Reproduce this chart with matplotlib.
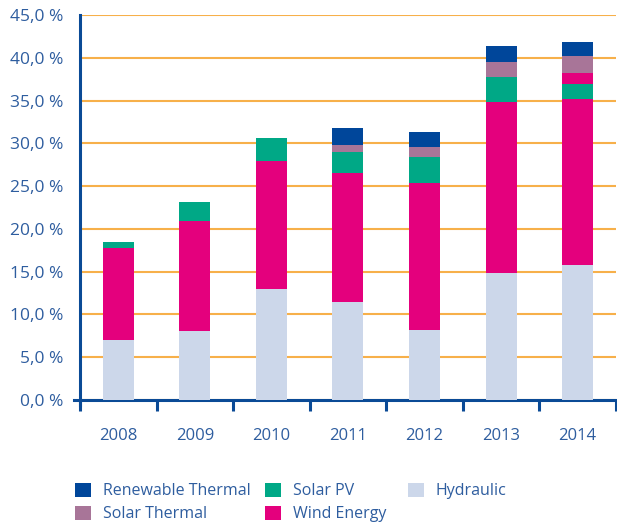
import numpy as np
import matplotlib.pyplot as plt

years = ["2008", "2009", "2010", "2011", "2012", "2013", "2014"]
hydraulic = [7.0, 8.1, 13.0, 11.5, 8.2, 14.9, 15.8]
wind = [10.8, 12.8, 14.9, 15.0, 17.2, 19.9, 19.4]
solar_pv = [0.7, 2.2, 2.7, 2.5, 3.0, 3.0, 1.7]
wind_extra = [0, 0, 0, 0, 0, 0, 1.3]
solar_thermal = [0, 0, 0, 0.8, 1.2, 1.7, 2.0]
renew_thermal = [0, 0, 0, 2.0, 1.7, 1.9, 1.7]
yticks = [0, 5, 10, 15, 20, 25, 30, 35, 40, 45]

txt = "#2E5D9F"
axis_col = "#0A4A96"
plt.rcParams['font.family'] = ['Open Sans', 'DejaVu Sans']

fig = plt.figure(figsize=(6.17, 5.24), dpi=100)
ax = fig.add_axes([0.1297, 0.2366, 0.8686, 0.7348])

x = np.arange(len(years))
w = 0.405
series = [
    (hydraulic, "#CCD7EA", "Hydraulic"),
    (wind, "#E4007D", "Wind Energy"),
    (solar_pv, "#00A886", "Solar PV"),
    (wind_extra, "#E4007D", None),
    (solar_thermal, "#A87598", "Solar Thermal"),
    (renew_thermal, "#00469A", "Renewable Thermal"),
]
bottom = np.zeros(len(years))
handles = {}
for vals, col, name in series:
    b = ax.bar(x, vals, w, bottom=bottom, color=col, zorder=3)
    if name:
        handles[name] = b
    bottom += np.array(vals)

ax.set_xlim(-0.5, 6.5)
ax.set_ylim(0, 45)
ax.set_yticks(yticks)
ax.set_yticklabels([f"{v:.1f} %".replace(".", ",") for v in yticks])
ax.yaxis.grid(True, color="#F7B04A", lw=1.5, zorder=0)
ax.tick_params(axis="y", length=0, pad=12, labelsize=12.5, labelcolor=txt)

ax.set_xticks(np.arange(-0.5, 7, 1))
ax.set_xticklabels([])
ax.set_xticks(x, minor=True)
ax.set_xticklabels(years, minor=True)
ax.tick_params(axis="x", which="major", length=8, width=2.2, color=axis_col, direction="out")
ax.tick_params(axis="x", which="minor", length=0, pad=20, labelsize=12, labelcolor=txt)

for s in ["top", "right"]:
    ax.spines[s].set_visible(False)
ax.spines["left"].set_color(axis_col)
ax.spines["left"].set_linewidth(2.2)
ax.spines["bottom"].set_color(axis_col)
ax.spines["bottom"].set_linewidth(2.2)
ax.spines["bottom"].set_bounds(-0.58, 6.5)
ax.plot([-0.5, -0.5], [0, -0.6], color=axis_col, lw=2.2, clip_on=False, zorder=5)

columns = [(["Renewable Thermal", "Solar Thermal"], 0.121),
           (["Solar PV", "Wind Energy"], 0.4296),
           (["Hydraulic"], 0.661)]
for names, xpos in columns:
    leg = fig.legend([handles[k] for k in names], names, loc="upper left",
                     bbox_to_anchor=(xpos, 0.079), frameon=False, fontsize=11.5,
                     handlelength=1.0, handleheight=1.0, handletextpad=0.75,
                     labelspacing=0.4, borderaxespad=0, borderpad=0)
    for t in leg.get_texts():
        t.set_color(txt)

fig.savefig("out.png", dpi=100)
